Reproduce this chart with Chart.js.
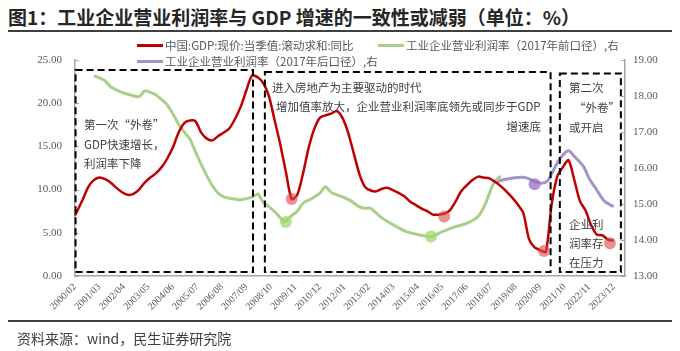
<!DOCTYPE html>
<html>
<head>
<meta charset="utf-8">
<script src="https://cdn.jsdelivr.net/npm/chart.js@4/dist/chart.umd.min.js"></script>
<style>
  body { margin: 0; background: #fff; }
  #wrap { position: relative; width: 680px; height: 351px; overflow: hidden; font-family: "Noto Sans CJK SC", sans-serif; }
  #c { position: absolute; left: 0; top: 0; }
  .title { position: absolute; left: 8px; top: 3px; font-size: 19px; font-weight: bold; color: #262626; white-space: nowrap; }
  .rule { position: absolute; left: 8px; width: 664px; height: 2px; background: #404040; }
  .src { position: absolute; left: 17px; top: 328px; font-size: 14px; color: #404040; white-space: nowrap; }
  .lg { position: absolute; font-size: 11.5px; color: #595959; white-space: nowrap; line-height: 14px; }
  .lg i { display: inline-block; width: 26px; height: 3px; vertical-align: middle; margin-right: 2px; position: relative; top: -1px; }
</style>
</head>
<body>
<div id="wrap">
  <div class="title">图1：工业企业营业利润率与 GDP 增速的一致性或减弱（单位：%）</div>
  <div class="rule" style="top:30px"></div>
  <canvas id="c" width="680" height="351"></canvas>
  <div class="lg" style="left:137px; top:38px"><i style="background:#C00000"></i>中国:GDP:现价:当季值:滚动求和:同比</div>
  <div class="lg" style="left:378px; top:38px"><i style="background:#A9CF88"></i>工业企业营业利润率（2017年前口径）,右</div>
  <div class="lg" style="left:137px; top:54px"><i style="background:#A593CB"></i>工业企业营业利润率（2017年后口径）,右</div>
  <div class="rule" style="top:320px"></div>
  <div class="src">资料来源：wind，民生证券研究院</div>
</div>
<script>
// x 轴：月度类目
const months = [];
for (let i = 0; i <= 292; i++) {
  const m = i + 1;
  months.push((2000 + Math.floor(m / 12)) + "/" + String(m % 12 + 1).padStart(2, "0"));
}
const tickLabels = ["2000/02", "2001/03", "2002/04", "2003/05", "2004/06", "2005/07", "2006/08", "2007/09",
  "2008/10", "2009/11", "2010/12", "2012/01", "2013/02", "2014/03", "2015/04", "2016/05", "2017/06",
  "2018/07", "2019/08", "2020/09", "2021/10", "2022/11", "2023/12"];

// GDP 现价 滚动同比（左轴）
const gdpMonths = ["2000/02", "2000/06", "2000/09", "2000/12", "2001/03", "2001/06", "2001/09", "2001/12",
  "2002/03", "2002/06", "2002/09", "2002/12", "2003/03", "2003/06", "2003/09", "2003/12", "2004/03", "2004/06",
  "2004/09", "2004/12", "2005/03", "2005/06", "2005/09", "2005/12", "2006/03", "2006/06", "2006/09", "2006/12",
  "2007/03", "2007/06", "2007/09", "2007/12", "2008/03", "2008/06", "2008/09", "2008/12", "2009/03", "2009/06",
  "2009/09", "2009/12", "2010/03", "2010/06", "2010/09", "2010/12", "2011/03", "2011/06", "2011/09", "2011/12",
  "2012/03", "2012/06", "2012/09", "2012/12", "2013/03", "2013/06", "2013/09", "2013/12", "2014/03", "2014/06",
  "2014/09", "2014/12", "2015/03", "2015/06", "2015/09", "2015/12", "2016/03", "2016/06", "2016/09", "2016/12",
  "2017/03", "2017/06", "2017/09", "2017/12", "2018/03", "2018/06", "2018/09", "2018/12", "2019/03", "2019/06",
  "2019/09", "2019/12", "2020/03", "2020/06", "2020/09", "2020/12", "2021/03", "2021/06", "2021/09", "2021/12",
  "2022/03", "2022/06", "2022/09", "2022/12", "2023/03", "2023/06", "2023/09", "2023/12"];
const gdpValues = [7.0, 8.8, 10.3, 11.1, 11.4, 11.2, 10.8, 10.2,
  9.7, 9.4, 9.5, 10.0, 10.8, 11.4, 11.9, 12.6, 13.6, 14.9,
  16.6, 17.7, 18.0, 17.9, 16.6, 15.9, 15.7, 16.2, 16.6, 17.1,
  18.2, 19.6, 21.5, 23.2, 23.0, 22.3, 20.8, 18.0, 15.2, 12.0,
  8.9, 9.4, 11.8, 14.8, 17.0, 18.3, 18.6, 18.8, 19.1, 18.3,
  16.6, 14.2, 11.8, 10.3, 9.9, 9.8, 10.1, 10.2, 9.9, 9.6,
  9.2, 8.6, 8.2, 7.8, 7.5, 7.1, 7.1, 7.2, 7.6, 8.6,
  9.8, 10.5, 11.1, 11.5, 11.4, 11.3, 10.9, 10.4, 9.8, 9.1,
  8.3, 7.3, 4.3, 3.3, 3.0, 2.8, 8.2, 11.5, 12.6, 13.4,
  11.2, 8.7, 7.6, 5.9, 4.8, 4.7, 4.2, 4.1];

// 工业企业营业利润率 2017年前口径（右轴）
const oldMonths = ["2000/12", "2001/03", "2001/06", "2001/09", "2001/12", "2002/03", "2002/06", "2002/12",
  "2003/03", "2003/06", "2003/09", "2003/12", "2004/03", "2004/06", "2004/09", "2004/12", "2005/03", "2005/06",
  "2005/09", "2005/12", "2006/03", "2006/06", "2006/09", "2006/12", "2007/06", "2007/12", "2008/03", "2008/06",
  "2008/09", "2008/12", "2009/03", "2009/05", "2009/08", "2009/12", "2010/03", "2010/08", "2010/12", "2011/03",
  "2011/06", "2011/12", "2012/04", "2012/09", "2012/12", "2013/03", "2013/08", "2014/03", "2014/10", "2015/05",
  "2015/11", "2016/05", "2016/12", "2017/06", "2017/12", "2018/04", "2018/08", "2018/12"];
const oldValues = [18.56, 18.50, 18.42, 18.25, 18.17, 18.10, 18.05, 17.98,
  18.14, 18.10, 18.03, 17.90, 17.75, 17.50, 17.22, 17.00, 16.80, 16.45,
  16.10, 15.78, 15.50, 15.30, 15.20, 15.16, 15.12, 15.19, 15.28, 15.05,
  14.92, 14.79, 14.62, 14.50, 14.63, 14.80, 15.02, 15.16, 15.30, 15.48,
  15.32, 15.20, 15.10, 14.92, 14.88, 14.88, 14.65, 14.42, 14.23, 14.14,
  14.10, 14.23, 14.37, 14.46, 14.65, 15.02, 15.55, 15.78];

// 工业企业营业利润率 2017年后口径（右轴）
const newMonths = ["2018/10", "2019/02", "2019/05", "2019/12", "2020/03", "2020/06", "2020/10", "2021/01",
  "2021/05", "2021/08", "2021/12", "2022/03", "2022/08", "2022/11", "2023/03", "2023/07", "2023/10", "2023/12"];
const newValues = [15.62, 15.68, 15.71, 15.74, 15.70, 15.62, 15.58, 15.65,
  16.04, 16.30, 16.48, 16.33, 16.04, 15.71, 15.39, 15.08, 14.98, 14.93];

// 标注圆点
const gdpDotMonths = ["2009/09", "2016/06", "2020/11", "2023/10"];
const gdpDotValues = [8.9, 6.9, 2.9, 3.8];
const oldDotMonths = ["2009/06", "2015/11"];
const oldDotValues = [14.5, 14.1];
const newDotMonths = ["2020/06"];
const newDotValues = [15.55];

const leftTicks = [0, 5, 10, 15, 20, 25];
const rightTicks = [13, 14, 15, 16, 17, 18, 19];

function pts(ms, vs) {
  return ms.map((m, i) => ({ x: m, y: vs[i] }));
}

// 虚线框 与 文字说明
const boxes = [
  { x0: 0.3, x1: 94.5, top: 23.85, bottom: 0.45 },
  { x0: 100.8, x1: 252.5, top: 23.6, bottom: 0.45 },
  { x0: 257.4, x1: 289.8, top: 23.45, bottom: 0.45 },
];
const notes = [
  { t: "第一次“外卷”", x: 84, y: 125 },
  { t: "GDP快速增长，", x: 84, y: 145 },
  { t: "利润率下降", x: 84, y: 164 },
  { t: "进入房地产为主要驱动的时代", x: 272, y: 88 },
  { t: "增加值率放大，企业营业利润率底领先或同步于GDP", x: 276, y: 107 },
  { t: "增速底", x: 541, y: 127, align: "right" },
  { t: "第二次", x: 569, y: 88 },
  { t: "“外卷”", x: 574, y: 108 },
  { t: "或开启", x: 569, y: 128 },
  { t: "企业利", x: 569, y: 225 },
  { t: "润率存", x: 569, y: 244 },
  { t: "在压力", x: 569, y: 263 },
];

const annotate = {
  id: "annotate",
  afterDraw(chart) {
    const ctx = chart.ctx;
    const xs = chart.scales.x, ys = chart.scales.y, yr = chart.scales.y1;
    ctx.save();
    // 坐标轴内侧小刻度
    ctx.strokeStyle = "#A6A6A6";
    ctx.lineWidth = 1;
    leftTicks.forEach(v => {
      const p = Math.round(ys.getPixelForValue(v)) + 0.5;
      ctx.beginPath(); ctx.moveTo(xs.left, p); ctx.lineTo(xs.left + 4, p); ctx.stroke();
    });
    rightTicks.forEach(v => {
      const p = Math.round(yr.getPixelForValue(v)) + 0.5;
      ctx.beginPath(); ctx.moveTo(xs.right, p); ctx.lineTo(xs.right - 4, p); ctx.stroke();
    });
    ctx.strokeStyle = "#000";
    ctx.lineWidth = 2;
    ctx.setLineDash([7, 4]);
    boxes.forEach(b => {
      const l = xs.getPixelForValue(b.x0), r = xs.getPixelForValue(b.x1);
      const t = ys.getPixelForValue(b.top), btm = ys.getPixelForValue(b.bottom);
      ctx.strokeRect(l, t, r - l, btm - t);
    });
    ctx.setLineDash([]);
    ctx.fillStyle = "#404040";
    ctx.font = '11.5px "Noto Sans CJK SC"';
    ctx.textBaseline = "middle";
    notes.forEach(n => {
      ctx.textAlign = n.align || "left";
      ctx.fillText(n.t, n.x, n.y);
    });
    ctx.restore();
  },
};

const axisGray = "#A6A6A6";
const serif = "'Liberation Serif', 'Times New Roman', serif";
const tickFont = { family: serif, size: 11 };

new Chart(document.getElementById("c"), {
  type: "line",
  data: {
    labels: months,
    datasets: [
      { data: pts(gdpDotMonths, gdpDotValues), yAxisID: "y", showLine: false, pointRadius: 6,
        pointBackgroundColor: "rgba(220,70,70,0.6)", pointBorderWidth: 0, order: -1 },
      { data: pts(oldDotMonths, oldDotValues), yAxisID: "y1", showLine: false, pointRadius: 6,
        pointBackgroundColor: "rgba(160,215,110,0.75)", pointBorderWidth: 0, order: -1 },
      { data: pts(newDotMonths, newDotValues), yAxisID: "y1", showLine: false, pointRadius: 6,
        pointBackgroundColor: "rgba(150,110,200,0.75)", pointBorderWidth: 0, order: -1 },
      { label: "中国:GDP:现价:当季值:滚动求和:同比", data: pts(gdpMonths, gdpValues), yAxisID: "y",
        borderColor: "#C00000", borderWidth: 2.5, pointRadius: 0, tension: 0.25 },
      { label: "工业企业营业利润率（2017年前口径）,右", data: pts(oldMonths, oldValues), yAxisID: "y1",
        borderColor: "#A9CF88", borderWidth: 3, pointRadius: 0, tension: 0.25 },
      { label: "工业企业营业利润率（2017年后口径）,右", data: pts(newMonths, newValues), yAxisID: "y1",
        borderColor: "#A593CB", borderWidth: 3, pointRadius: 0, tension: 0.25 },
    ],
  },
  options: {
    responsive: false,
    animation: false,
    layout: { padding: { top: 60, left: 0, right: 0, bottom: 0 } },
    plugins: { legend: { display: false }, tooltip: { enabled: false } },
    scales: {
      x: {
        grid: { display: false, drawTicks: false },
        border: { display: true, color: axisGray, width: 1.5 },
        afterFit: s => { s.height = 75; },
        ticks: {
          autoSkip: false, maxRotation: 45, minRotation: 45, padding: 5,
          color: "#595959", font: { family: serif, size: 10 },
          callback: function (v) {
            const lab = this.getLabelForValue(v);
            return tickLabels.includes(lab) ? lab : "";
          },
        },
      },
      y: {
        position: "left", min: 0, max: 25,
        grid: { display: false, drawTicks: false },
        border: { display: true, color: axisGray, width: 1.5 },
        afterFit: s => { s.width = 75; },
        afterBuildTicks: s => { s.ticks = leftTicks.map(v => ({ value: v })); },
        ticks: { padding: 13, color: "#595959", font: tickFont, callback: v => v.toFixed(2) },
      },
      y1: {
        position: "right", min: 13, max: 19,
        grid: { display: false, drawTicks: false },
        border: { display: true, color: axisGray, width: 1.5 },
        afterFit: s => { s.width = 55; },
        afterBuildTicks: s => { s.ticks = rightTicks.map(v => ({ value: v })); },
        ticks: { padding: 8, color: "#595959", font: tickFont, callback: v => v.toFixed(2) },
      },
    },
  },
  plugins: [annotate],
});
</script>
</body>
</html>
